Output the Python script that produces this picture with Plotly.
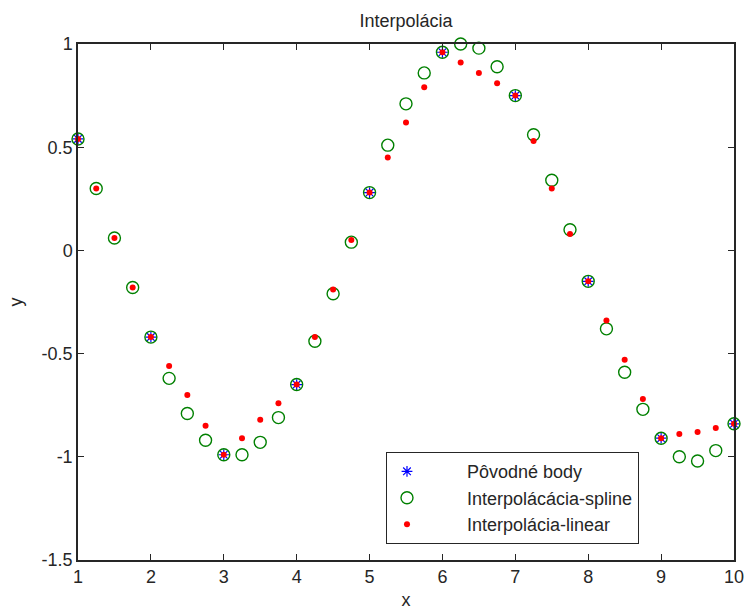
import plotly.graph_objects as go

# Original points
x_orig = [1, 2, 3, 4, 5, 6, 7, 8, 9, 10]
y_orig = [0.54, -0.42, -0.99, -0.65, 0.28, 0.96, 0.75, -0.15, -0.91, -0.84]

# Interpolation grid (0.25 step)
x_fine = [1, 1.25, 1.5, 1.75, 2, 2.25, 2.5, 2.75, 3, 3.25, 3.5, 3.75, 4, 4.25, 4.5, 4.75,
          5, 5.25, 5.5, 5.75, 6, 6.25, 6.5, 6.75, 7, 7.25, 7.5, 7.75, 8, 8.25, 8.5, 8.75,
          9, 9.25, 9.5, 9.75, 10]

y_spline = [0.54, 0.30, 0.06, -0.18, -0.42, -0.62, -0.79, -0.92, -0.99, -0.99, -0.93, -0.81,
            -0.65, -0.44, -0.21, 0.04, 0.28, 0.51, 0.71, 0.86, 0.96, 1.00, 0.98, 0.89,
            0.75, 0.56, 0.34, 0.10, -0.15, -0.38, -0.59, -0.77, -0.91, -1.00, -1.02, -0.97, -0.84]

y_linear = [0.54, 0.30, 0.06, -0.18, -0.42, -0.56, -0.70, -0.85, -0.99, -0.91, -0.82, -0.74,
            -0.65, -0.42, -0.19, 0.05, 0.28, 0.45, 0.62, 0.79, 0.96, 0.91, 0.86, 0.81,
            0.75, 0.53, 0.30, 0.08, -0.15, -0.34, -0.53, -0.72, -0.91, -0.89, -0.88, -0.86, -0.84]

x_ticks = [1, 2, 3, 4, 5, 6, 7, 8, 9, 10]
y_ticks = [-1.5, -1, -0.5, 0, 0.5, 1]
y_ticktext = ["-1.5", "-1", "-0.5", "0", "0.5", "1"]

names = ["Pôvodné body", "Interpolácácia-spline", "Interpolácia-linear"]
PAD = "\u00a0" * 8

FONT = "Liberation Sans, Arial, sans-serif"
INK = "#262626"

fig = go.Figure()
fig.add_trace(go.Scatter(
    x=x_orig, y=y_orig, mode="markers", name=PAD + names[0], cliponaxis=False,
    marker=dict(symbol="asterisk-open", size=9, color="#0000ff",
                line=dict(color="#0000ff", width=1.2))))
fig.add_trace(go.Scatter(
    x=x_fine, y=y_spline, mode="markers", name=PAD + names[1], cliponaxis=False,
    marker=dict(symbol="circle-open", size=12, color="#008000",
                line=dict(color="#008000", width=1.4))))
fig.add_trace(go.Scatter(
    x=x_fine, y=y_linear, mode="markers", name=PAD + names[2], cliponaxis=False,
    marker=dict(symbol="circle", size=6, color="#ff0000", line=dict(width=0))))

axis_common = dict(showline=True, linecolor=INK, linewidth=1.5, mirror="ticks",
                   ticks="inside", ticklen=6, tickcolor=INK, showgrid=False,
                   zeroline=False, automargin=False,
                   tickfont=dict(family=FONT, size=18, color=INK))

fig.update_layout(
    width=745, height=610,
    margin=dict(l=78, r=11, t=44, b=50),
    paper_bgcolor="white", plot_bgcolor="white",
    title=dict(text="Interpolácia", x=0.545, xanchor="center", y=0.966, yanchor="middle",
               font=dict(family=FONT, size=18, color=INK)),
    xaxis=dict(range=[1, 10], tickvals=x_ticks, title=dict(text="x", standoff=7,
               font=dict(family=FONT, size=18, color=INK)), **axis_common),
    yaxis=dict(range=[-1.5, 1], tickvals=y_ticks, ticktext=y_ticktext,
               title=dict(text="y", standoff=14, font=dict(family=FONT, size=18, color=INK)),
               **axis_common),
    legend=dict(x=0.4695, y=0.209, xanchor="left", yanchor="top",
                bgcolor="white", bordercolor=INK, borderwidth=1,
                font=dict(family=FONT, size=18, color=INK),
                itemwidth=30),
    showlegend=True,
)

fig.write_html("out.html")
